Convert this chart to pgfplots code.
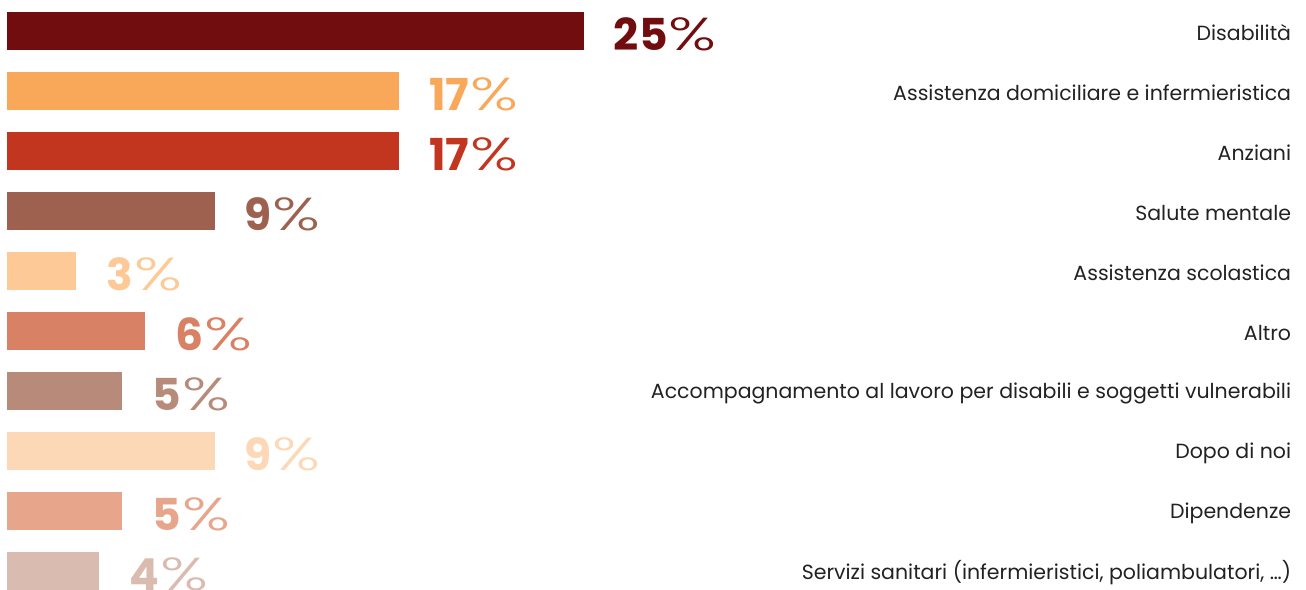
\documentclass[border=0pt]{standalone}
\usepackage{fontspec}
\setmainfont{Poppins}
\newfontfamily\plight{Poppins Light}
\usepackage{graphicx}
\usepackage{pgfplots}
\pgfplotsset{compat=1.18}

\definecolor{c1}{HTML}{720D0F}
\definecolor{c2}{HTML}{F9A85A}
\definecolor{c3}{HTML}{C2351F}
\definecolor{c4}{HTML}{9E6150}
\definecolor{c5}{HTML}{FDC997}
\definecolor{c6}{HTML}{D98164}
\definecolor{c7}{HTML}{B88A7A}
\definecolor{c8}{HTML}{FCD8B6}
\definecolor{c9}{HTML}{E7A58C}
\definecolor{c10}{HTML}{D9BBB0}
\definecolor{labeltext}{HTML}{222222}

\pgfplotsset{
  val/.style={fill=#1, draw=none,
    nodes near coords={\color{#1}{\bfseries\pgfplotspointmeta}\kern1pt{\mdseries\plight\scalebox{1.5}[1.05]{\%}}},
  },
}

\begin{document}
\begin{tikzpicture}
\begin{axis}[
  xbar, bar shift=0pt, bar width=38pt,
  scale only axis, width=1306pt, height=589pt,
  xmin=-0.3034, xmax=56.306,
  ymin=-0.5167, ymax=9.3, y dir=reverse,
  axis line style={draw=none}, tick style={draw=none},
  xtick=\empty,
  ytick={0,1,2,3,4,5,6,7,8,9},
  yticklabels={
    Disabilità,
    Assistenza domiciliare e infermieristica,
    Anziani,
    Salute mentale,
    Assistenza scolastica,
    Altro,
    Accompagnamento al lavoro per disabili e soggetti vulnerabili,
    Dopo di noi,
    Dipendenze,
    {Servizi sanitari (infermieristici, poliambulatori, \ldots)}},
  yticklabel pos=right,
  yticklabel style={anchor=east, inner sep=0pt, xshift=-19pt, yshift=-2pt,
    font=\fontsize{20.5}{24}\selectfont, text=labeltext},
  point meta=explicit symbolic,
  nodes near coords style={anchor=west, inner sep=0pt, xshift=30pt, yshift=-3pt,
    font=\fontsize{44}{48}\selectfont},
]
\addplot[val=c1]  coordinates {(25,0) [25]};
\addplot[val=c2]  coordinates {(17,1) [17]};
\addplot[val=c3]  coordinates {(17,2) [17]};
\addplot[val=c4]  coordinates {(9,3) [9]};
\addplot[val=c5]  coordinates {(3,4) [3]};
\addplot[val=c6]  coordinates {(6,5) [6]};
\addplot[val=c7]  coordinates {(5,6) [5]};
\addplot[val=c8]  coordinates {(9,7) [9]};
\addplot[val=c9]  coordinates {(5,8) [5]};
\addplot[val=c10] coordinates {(4,9) [4]};
\end{axis}
\pgfresetboundingbox
\path[use as bounding box] (current axis.south west) rectangle (current axis.north east);
\end{tikzpicture}
\end{document}
